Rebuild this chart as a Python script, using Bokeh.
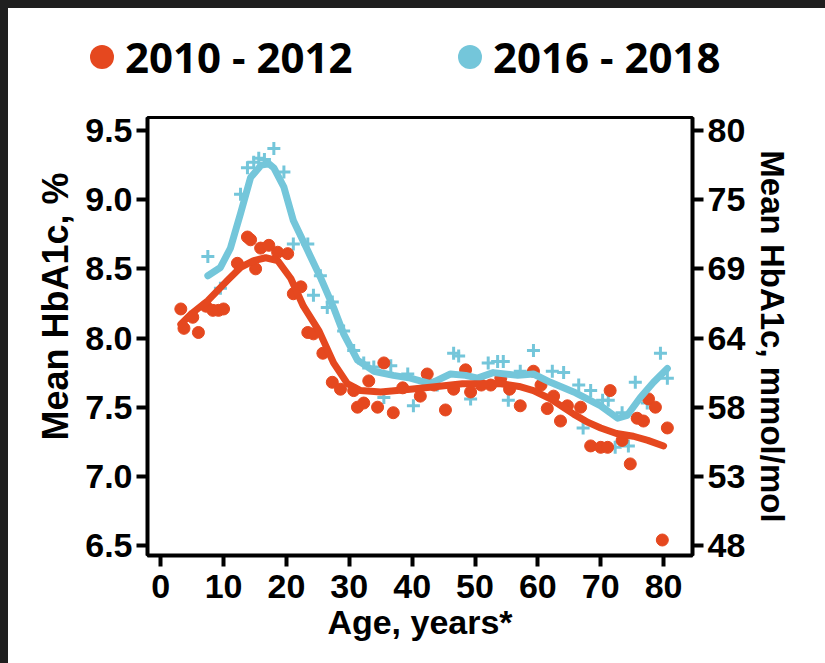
from bokeh.plotting import figure
from bokeh.models import Range1d, LinearAxis, FixedTicker, Div
from bokeh.layouts import column
from bokeh.embed import file_html
from bokeh.resources import INLINE

# ---------------- data ----------------
x_ticks = [0, 10, 20, 30, 40, 50, 60, 70, 80]
y_ticks = [6.5, 7.0, 7.5, 8.0, 8.5, 9.0, 9.5]
y_tick_labels = ["6.5", "7.0", "7.5", "8.0", "8.5", "9.0", "9.5"]
mmol_tick_labels = ["48", "53", "58", "64", "69", "75", "80"]

series_names = ["2010 - 2012", "2016 - 2018"]

# 2010-2012 observed means (dots)
age_2010 = [3.2, 3.7, 5.1, 6.0, 7.2, 8.3, 9.2, 10.0, 12.2, 13.8, 14.3, 15.1, 15.9, 17.2,
            18.6, 20.2, 21.1, 22.3, 23.4, 24.3, 25.8, 27.3, 28.6, 30.7, 31.3, 32.3, 33.1,
            34.5, 35.5, 37.0, 38.5, 41.3, 42.4, 43.5, 45.3, 46.6, 48.5, 49.3, 51.0, 52.5,
            54.1, 55.5, 57.2, 59.3, 60.5, 61.5, 62.5, 63.6, 64.7, 66.8, 68.4, 70.0, 71.1,
            71.5, 73.4, 74.7, 75.8, 76.8, 77.6, 78.7, 79.8, 80.6]
hba1c_2010 = [8.21, 8.07, 8.15, 8.04, 8.23, 8.20, 8.20, 8.21, 8.54, 8.73, 8.71, 8.50, 8.65, 8.67,
              8.62, 8.61, 8.32, 8.37, 8.04, 8.03, 7.89, 7.68, 7.63, 7.62, 7.50, 7.53, 7.69,
              7.50, 7.82, 7.46, 7.64, 7.58, 7.74, 7.66, 7.48, 7.63, 7.77, 7.61, 7.66, 7.66,
              7.71, 7.63, 7.51, 7.76, 7.66, 7.49, 7.58, 7.40, 7.51, 7.50, 7.22, 7.21, 7.21,
              7.62, 7.26, 7.09, 7.42, 7.40, 7.56, 7.50, 6.54, 7.35]

# 2010-2012 smoothed trend
trend_age_2010 = [3.2, 5.0, 7.5, 10.7, 12.7, 14.8, 16.7, 18.6, 20.7, 22.7, 25.2, 27.5, 29.7,
                  31.8, 35.0, 39.7, 44.0, 48.0, 52.0, 54.1, 57.0, 59.3, 62.0, 65.7, 68.0,
                  70.0, 72.5, 75.2, 77.5, 80.0]
trend_2010 = [8.10, 8.18, 8.27, 8.42, 8.51, 8.56, 8.58, 8.56, 8.43, 8.23, 8.05, 7.82, 7.67,
              7.62, 7.61, 7.63, 7.65, 7.67, 7.67, 7.67, 7.65, 7.62, 7.56, 7.45, 7.39,
              7.35, 7.31, 7.29, 7.26, 7.22]

# 2016-2018 observed means (crosses)
age_2016 = [7.5, 9.5, 12.7, 13.8, 14.8, 15.6, 16.5, 18.0, 19.6, 21.1, 23.4, 24.3, 25.4, 26.5,
            27.3, 29.1, 30.7, 32.3, 33.9, 35.5, 36.6, 39.3, 40.2, 42.0, 44.0, 46.6, 47.4,
            49.3, 52.1, 53.6, 54.5, 55.3, 57.2, 59.3, 62.3, 64.1, 66.5, 67.2, 68.4, 70.3,
            71.2, 72.3, 73.4, 74.4, 75.5, 77.4, 79.5, 80.6]
hba1c_2016 = [8.59, 8.36, 9.04, 9.23, 9.27, 9.30, 9.29, 9.37, 9.20, 8.68, 8.68, 8.31, 8.45, 8.22,
              8.26, 8.05, 7.91, 7.82, 7.79, 7.57, 7.80, 7.74, 7.51, 7.70, 7.66, 7.89, 7.87,
              7.56, 7.82, 7.83, 7.83, 7.55, 7.76, 7.91, 7.76, 7.75, 7.66, 7.35, 7.62, 7.55,
              7.55, 7.21, 7.46, 7.22, 7.68, 7.53, 7.89, 7.71]

# 2016-2018 smoothed trend
trend_age_2016 = [7.5, 9.5, 11.1, 12.7, 14.3, 16.0, 17.2, 18.0, 19.6, 21.1, 23.4, 25.4, 27.5,
                  29.1, 31.3, 33.9, 37.0, 39.7, 42.9, 46.1, 48.5, 50.4, 52.9, 56.8, 59.3,
                  62.0, 65.7, 70.0, 72.7, 74.2, 76.3, 78.4, 80.6]
trend_2016 = [8.45, 8.51, 8.65, 8.90, 9.16, 9.25, 9.26, 9.23, 9.09, 8.85, 8.63, 8.44, 8.22,
              8.03, 7.84, 7.76, 7.73, 7.71, 7.67, 7.74, 7.73, 7.71, 7.75, 7.73, 7.74,
              7.68, 7.61, 7.51, 7.42, 7.44, 7.57, 7.68, 7.78]

RED = "#E5481F"
BLUE = "#74C6DA"
FONT = "Liberation Sans"

# ---------------- legend header (HTML) ----------------
legend_colors = [RED, BLUE]
legend_dot_left = [82, 450]
parts = []
for name, col, left in zip(series_names, legend_colors, legend_dot_left):
    parts.append(
        f'<div style="position:absolute;left:{left}px;top:37px;width:24px;height:24px;'
        f'border-radius:50%;background:{col};"></div>'
        f'<div style="position:absolute;left:{left + 35}px;top:49px;transform:translateY(-50%);'
        f'line-height:1;white-space:nowrap;">{name}</div>')
legend_html = ('<div style="position:relative;width:817px;height:80px;background:#ffffff;'
               'font-family:\'Open Sans\';font-weight:700;font-size:42px;color:#000000;">'
               + "".join(parts) + '</div>')
head = Div(text=legend_html, width=817, height=80, margin=0,
           styles={"background-color": "#ffffff"})

# ---------------- main figure ----------------
p = figure(width=817, height=575, output_backend="svg", toolbar_location=None,
           x_range=Range1d(-2.1, 84.6), y_range=Range1d(6.428, 9.594),
           min_border_left=139, min_border_right=133, min_border_top=29, min_border_bottom=108)
p.background_fill_color = "white"
p.border_fill_color = "white"
p.outline_line_color = "black"
p.outline_line_width = 3
p.xgrid.visible = False
p.ygrid.visible = False

p.scatter(age_2016, hba1c_2016, marker="cross", size=13, line_width=3, line_color=BLUE)
p.scatter(age_2010, hba1c_2010, marker="circle", size=12, fill_color=RED, line_color=RED)
p.line(trend_age_2016, trend_2016, line_width=7, line_color=BLUE, line_join="round", line_cap="round")
p.line(trend_age_2010, trend_2010, line_width=7, line_color=RED, line_join="round", line_cap="round")

p.xaxis.ticker = FixedTicker(ticks=x_ticks)
p.xaxis.axis_label = "Age, years*"
p.yaxis.ticker = FixedTicker(ticks=y_ticks)
p.yaxis.major_label_overrides = {t: l for t, l in zip(y_ticks, y_tick_labels)}
p.yaxis.axis_label = "\u00a0" * 6 + "Mean HbA1c, %"

right = LinearAxis(ticker=FixedTicker(ticks=y_ticks),
                   major_label_overrides={t: l for t, l in zip(y_ticks, mmol_tick_labels)},
                   axis_label="Mean HbA1c, mmol/mol")
p.add_layout(right, "right")

for ax in [p.xaxis[0], p.yaxis[0], right]:
    ax.axis_line_color = "black"
    ax.axis_line_width = 4
    ax.major_tick_line_color = "black"
    ax.major_tick_line_width = 4
    ax.major_tick_out = 11
    ax.major_tick_in = 0
    ax.minor_tick_line_color = None
    ax.major_label_text_font = FONT
    ax.major_label_text_font_style = "bold"
    ax.major_label_text_font_size = "34px"
    ax.major_label_text_color = "black"
    ax.major_label_standoff = 4
    ax.axis_label_text_font = FONT
    ax.axis_label_text_font_style = "bold"
    ax.axis_label_text_font_size = "34px"
    ax.axis_label_text_color = "black"
    ax.axis_label_standoff = 6
p.yaxis[0].axis_label_text_font_size = "36px"
right.axis_label_text_font_size = "33px"
p.xaxis[0].major_label_standoff = 8
p.xaxis[0].axis_label_standoff = 2

layout = column(head, p, spacing=0)
html = file_html(layout, INLINE)
style = ('<style>body { padding: 0 !important; border-top: 8px solid #1f1f1f; '
         'border-left: 8px solid #1f1f1f; background: #ffffff; }</style>')
html = html.replace("</head>", style + "</head>", 1)
open("out.html", "w").write(html)
